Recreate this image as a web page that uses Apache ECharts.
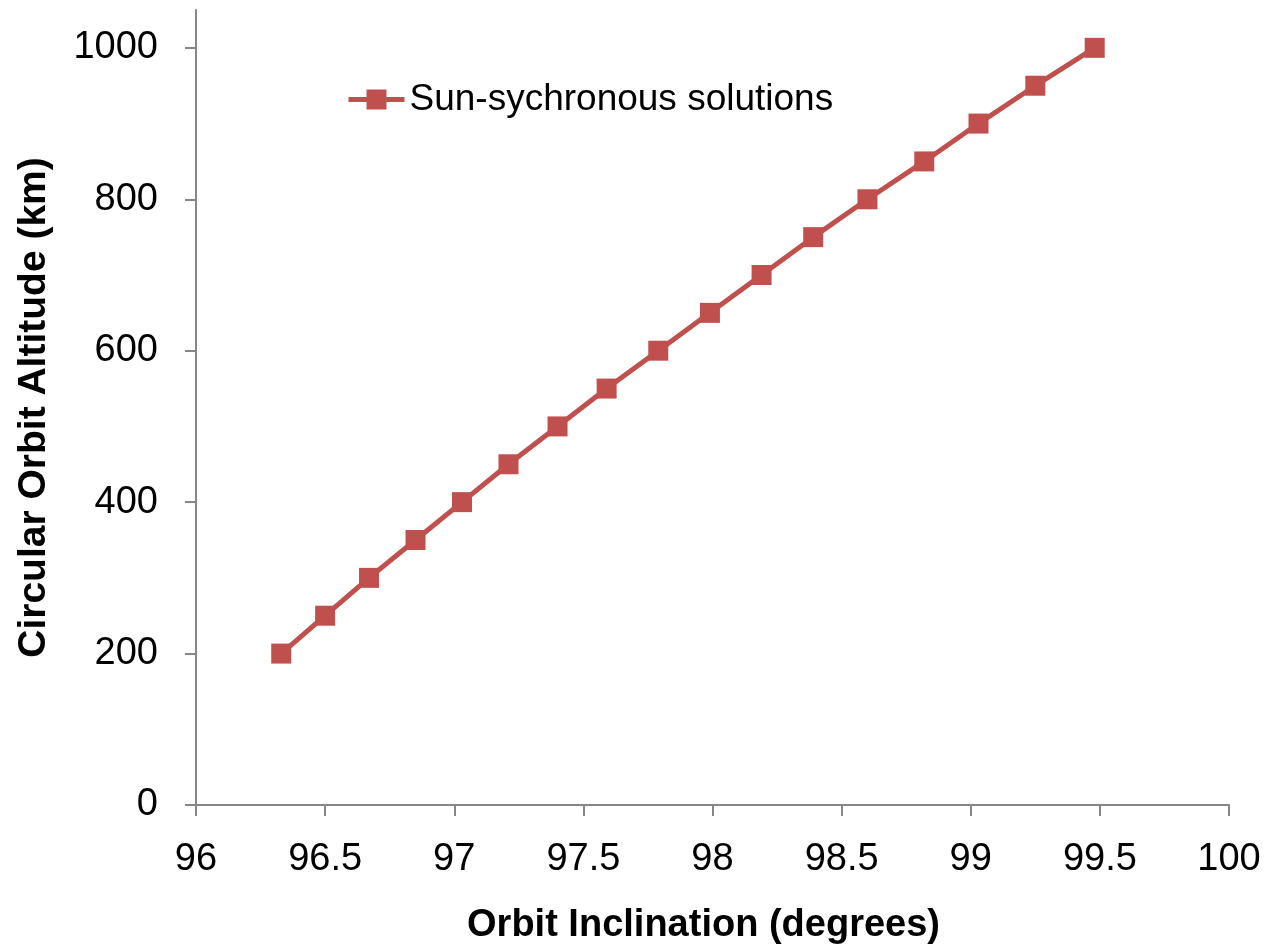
<!DOCTYPE html>
<html>
<head>
<meta charset="utf-8">
<script src="https://cdn.jsdelivr.net/npm/echarts@6/dist/echarts.min.js"></script>
<style>
  html, body { margin: 0; padding: 0; background: #fff; }
  #chart { width: 1264px; height: 950px; }
</style>
</head>
<body>
<div id="chart"></div>
<script>
// Orbit inclination (deg) needed for a sun-synchronous circular orbit at each altitude (km)
const inclination = [96.33, 96.50, 96.67, 96.85, 97.03, 97.21, 97.40, 97.59, 97.79,
                     97.99, 98.19, 98.39, 98.60, 98.82, 99.03, 99.25, 99.48];
const altitude = [200, 250, 300, 350, 400, 450, 500, 550, 600,
                  650, 700, 750, 800, 850, 900, 950, 1000];
const altitudeTicks = [0, 200, 400, 600, 800, 1000];
const seriesName = 'Sun-sychronous solutions';

const points = inclination.map((x, i) => [x, altitude[i]]);

const font = '"Liberation Sans", Arial, sans-serif';
const axisGrey = '#868686';
const red = '#C0504D';

const chart = echarts.init(document.getElementById('chart'), null, { renderer: 'canvas' });
chart.setOption({
  animation: false,
  backgroundColor: '#ffffff',
  grid: { left: 196, right: 35, top: 10, bottom: 144, containLabel: false },
  legend: {
    left: 341, top: 76,
    itemWidth: 56, itemHeight: 25, itemGap: 10,
    lineStyle: { width: 5 },
    textStyle: { fontFamily: font, fontSize: 37, color: '#000' },
    data: [seriesName]
  },
  xAxis: {
    type: 'value',
    min: 96, max: 100, interval: 0.5,
    name: 'Orbit Inclination (degrees)',
    nameLocation: 'middle',
    nameGap: 102,
    nameTextStyle: { fontFamily: font, fontSize: 38, fontWeight: 'bold', color: '#000', padding: [0, 18, 0, 0] },
    axisLine: { show: true, lineStyle: { color: axisGrey, width: 2 } },
    axisTick: { show: true, length: 11, lineStyle: { color: axisGrey, width: 2 } },
    axisLabel: { margin: 36, fontFamily: font, fontSize: 38, color: '#000' },
    splitLine: { show: false }
  },
  yAxis: {
    type: 'value',
    min: 0, max: 1050,
    name: 'Circular Orbit Altitude (km)',
    nameLocation: 'middle',
    nameGap: 142,
    nameTextStyle: { fontFamily: font, fontSize: 39, fontWeight: 'bold', color: '#000' },
    axisLine: { show: true, lineStyle: { color: axisGrey, width: 2 } },
    axisTick: { show: true, length: 11, customValues: altitudeTicks, lineStyle: { color: axisGrey, width: 2 } },
    axisLabel: {
      margin: 38, customValues: altitudeTicks,
      fontFamily: font, fontSize: 38, color: '#000',
      formatter: v => String(v)
    },
    splitLine: { show: false }
  },
  series: [{
    name: seriesName,
    type: 'line',
    data: points,
    symbol: 'rect',
    symbolSize: 20,
    lineStyle: { color: red, width: 5 },
    itemStyle: { color: red },
    z: 3
  }]
});
</script>
</body>
</html>
